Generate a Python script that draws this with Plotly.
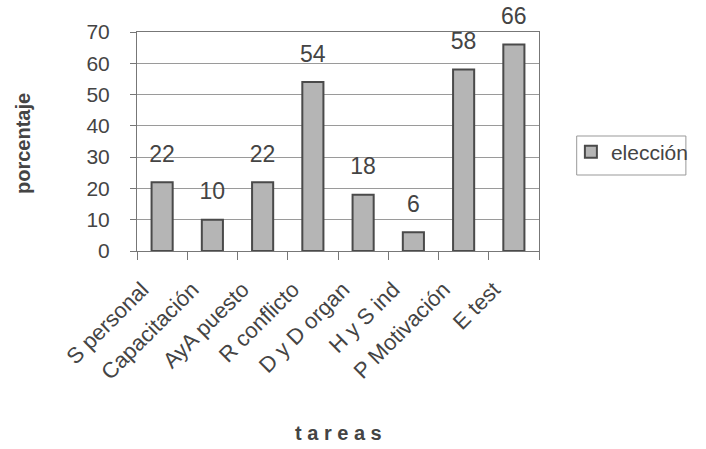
import plotly.graph_objects as go

categorias = ["S personal", "Capacitación", "AyA puesto", "R conflicto", "D y D organ", "H y S ind", "P Motivación", "E test"]
eleccion = [22, 10, 22, 54, 18, 6, 58, 66]
y_ticks = [0, 10, 20, 30, 40, 50, 60, 70]

FONT = "Liberation Sans, Arial, sans-serif"
TXT = "#444444"

# plot area in screenshot pixels: x 137..553, y 32..251 (page margin removed below)
L, R, T, B = 137, 553, 32, 251
W, H = R - L, B - T
def px(x): return (x - L) / W
def py(y): return (B - y) / H

fig = go.Figure()
fig.add_trace(go.Bar(
    x=categorias, y=eleccion, name="elección",
    marker=dict(color="#b5b5b5", line=dict(color="#4a4a4a", width=2)),
    width=0.42, hoverinfo="skip",
))
fig.add_trace(go.Scatter(
    x=categorias, y=eleccion, mode="markers+text", showlegend=False,
    marker=dict(size=22, opacity=0), hoverinfo="skip",
    text=[str(v) for v in eleccion], textposition="top center",
    textfont=dict(size=23, color=TXT, family=FONT),
    cliponaxis=False,
))

fig.update_layout(
    width=706, height=449,
    margin=dict(l=L, r=706 - R, t=T, b=449 - B),
    paper_bgcolor="white", plot_bgcolor="white",
    font=dict(family=FONT, color=TXT),
    showlegend=True,
    legend=dict(x=px(586), y=py(152), xanchor="left", yanchor="middle",
                borderwidth=0, bgcolor="rgba(0,0,0,0)",
                font=dict(size=21, color=TXT, family=FONT)),
    xaxis=dict(
        automargin=False, range=[-0.5, len(categorias) - 0.5],
        tickangle=-45, tickfont=dict(size=22, color=TXT),
        ticklabelshift=-20, ticklabelstandoff=16,
        showline=True, linecolor="#777777", linewidth=1, mirror=True,
        ticks="outside", tickson="boundaries", ticklen=8, tickcolor="#777777",
    ),
    yaxis=dict(
        automargin=False,
        range=[0, 70], tickvals=y_ticks, ticktext=[str(v) for v in y_ticks],
        tickfont=dict(size=21, color=TXT),
        ticklabelstandoff=16,
        showgrid=True, gridcolor="#9a9a9a", gridwidth=1,
        showline=True, linecolor="#777777", linewidth=1, mirror=True,
        ticks="outside", ticklen=6, tickcolor="#777777",
        zeroline=False,
    ),
    annotations=[
        dict(text="<b>porcentaje</b>", xref="paper", yref="paper",
             x=px(19), y=py(143), xanchor="center", yanchor="middle",
             textangle=-90, showarrow=False,
             font=dict(size=20, color=TXT, family=FONT)),
        dict(text="<b>t a r e a s</b>", xref="paper", yref="paper",
             x=px(345), y=py(433), xanchor="center", yanchor="middle",
             showarrow=False,
             font=dict(size=20, color=TXT, family=FONT)),
    ],
    shapes=[
        dict(type="rect", xref="paper", yref="paper",
             x0=px(592), x1=px(705), y0=py(175), y1=py(136),
             line=dict(color="#999999", width=1)),
    ],
)
fig.write_html("out.html", config={"displayModeBar": False, "staticPlot": True},
               post_script="document.body.style.margin='0';document.body.style.overflow='hidden';")
